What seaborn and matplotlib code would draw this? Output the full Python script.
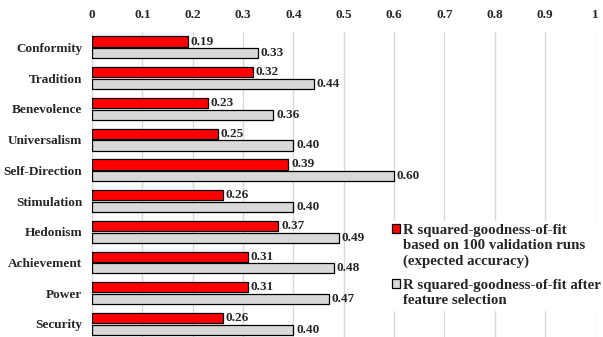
import matplotlib
matplotlib.use("Agg")
import matplotlib.pyplot as plt
import seaborn as sns
import pandas as pd
from matplotlib.patches import Patch

values_names = ["Conformity", "Tradition", "Benevolence", "Universalism", "Self-Direction",
                "Stimulation", "Hedonism", "Achievement", "Power", "Security"]
expected_accuracy = [0.19, 0.32, 0.23, 0.25, 0.39, 0.26, 0.37, 0.31, 0.31, 0.26]
after_selection = [0.33, 0.44, 0.36, 0.40, 0.60, 0.40, 0.49, 0.48, 0.47, 0.40]
series_names = ["R squared-goodness-of-fit\nbased on 100 validation runs\n(expected accuracy)",
                "R squared-goodness-of-fit after\nfeature selection"]
x_ticks = [0, 0.1, 0.2, 0.3, 0.4, 0.5, 0.6, 0.7, 0.8, 0.9, 1]
x_tick_labels = ["0", "0.1", "0.2", "0.3", "0.4", "0.5", "0.6", "0.7", "0.8", "0.9", "1"]
colors = ["#ff0000", "#d9d9d9"]

sns.set_theme(style="white")
plt.rcParams["font.family"] = ["Liberation Serif", "DejaVu Serif"]
plt.rcParams["font.weight"] = "bold"

df = pd.DataFrame({
    "value": values_names * 2,
    "r2": expected_accuracy + after_selection,
    "series": [series_names[0]] * len(values_names) + [series_names[1]] * len(values_names),
})

fig = plt.figure(figsize=(6.03, 3.37), dpi=100)
ax = fig.add_axes([0.1526, -0.007, 0.835, 0.912])

sns.barplot(data=df, y="value", x="r2", hue="series", orient="h",
            palette=colors, saturation=1, width=0.76, gap=0.13, edgecolor="black",
            linewidth=0.9, legend=False, ax=ax)

for container in ax.containers:
    ax.bar_label(container, fmt="%.2f", padding=2, fontsize=9.5, fontweight="bold")

ax.set_xlim(0, 1)
ax.set_xticks(x_ticks)
ax.set_xticklabels(x_tick_labels, fontsize=9.5, fontweight="bold")
ax.xaxis.tick_top()
ax.tick_params(axis="x", length=0, pad=8)
ax.tick_params(axis="y", length=0, pad=7, labelsize=9.5)
for lbl in ax.get_yticklabels():
    lbl.set_fontweight("bold")
ax.set_xlabel("")
ax.set_ylabel("")
ax.grid(axis="x", color="#d9d9d9", linewidth=1)
ax.set_axisbelow(True)
for s in ax.spines.values():
    s.set_visible(False)

handles = [Patch(facecolor=c, edgecolor="black", linewidth=0.9) for c in colors]
leg = ax.legend(handles, series_names, loc="upper left", bbox_to_anchor=(0.645, 0.344),
                bbox_transform=fig.transFigure, frameon=True, fontsize=10.7,
                handlelength=0.55, handleheight=0.5, handletextpad=0.2,
                labelspacing=0.8, borderaxespad=0, borderpad=0.2)
leg.get_frame().set_facecolor("white")
leg.get_frame().set_edgecolor("white")
leg.get_frame().set_alpha(1)
for t in leg.get_texts():
    t.set_fontweight("bold")
    t.set_linespacing(1.2)

# put each legend swatch beside the first line of its (multi-line) label
for column in leg._legend_handle_box.get_children():
    for item in column.get_children():
        item.align = "top"

fig.savefig("out.png", dpi=100)
